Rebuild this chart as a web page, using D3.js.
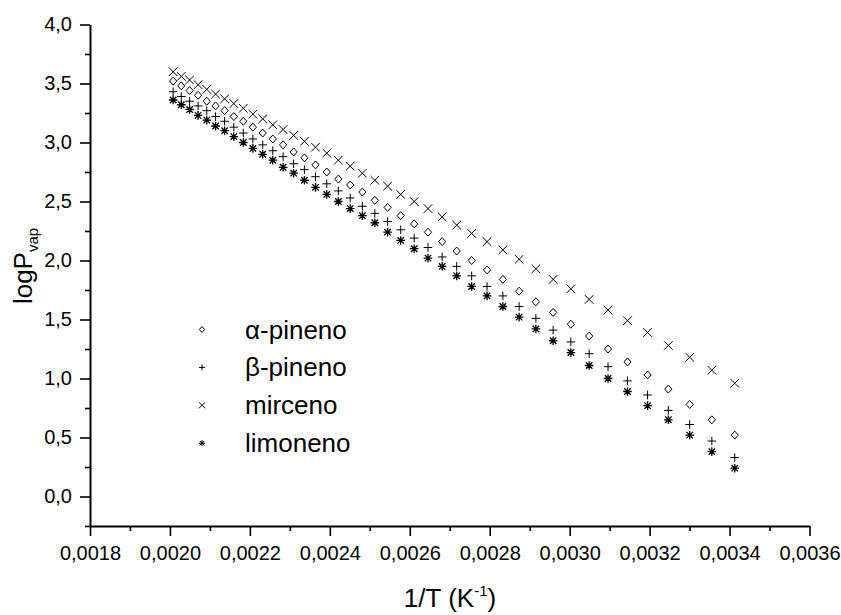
<style>
	body {
		margin: 0;
		background-color: white;
	}

	svg {
		display: block;
		font-family: Arial, "Liberation Sans", sans-serif;
	}

	.axis path, .axis line {
		stroke: black;
	}

	.axis text {
		fill: black;
	}
</style>

<svg width="841" height="615" viewBox="0 0 841 615"></svg>

<script src="https://d3js.org/d3.v7.min.js"></script>
<script>
// 1/T values (K^-1), one per temperature step
const invT = [
  0.0020080, 0.0020284, 0.0020492, 0.0020704, 0.0020921, 0.0021142, 0.0021368,
  0.0021598, 0.0021834, 0.0022075, 0.0022321, 0.0022573, 0.0022831, 0.0023095,
  0.0023364, 0.0023641, 0.0023923, 0.0024213, 0.0024510, 0.0024814, 0.0025126,
  0.0025445, 0.0025773, 0.0026110, 0.0026455, 0.0026810, 0.0027174, 0.0027548,
  0.0027933, 0.0028329, 0.0028736, 0.0029155, 0.0029586, 0.0030030, 0.0030488,
  0.0030960, 0.0031447, 0.0031949, 0.0032468, 0.0033003, 0.0033557, 0.0034130
]

// logPvap, same order as invT
const alphaPineno = [
  3.52, 3.48, 3.44, 3.40, 3.35, 3.31, 3.27, 3.22, 3.18, 3.13, 3.08, 3.03, 2.98, 2.92,
  2.87, 2.81, 2.75, 2.69, 2.64, 2.58, 2.51, 2.45, 2.38, 2.31, 2.24, 2.16, 2.08, 2.00,
  1.92, 1.84, 1.74, 1.65, 1.56, 1.46, 1.36, 1.25, 1.14, 1.03, 0.91, 0.78, 0.65, 0.52
]
const betaPineno = [
  3.43, 3.39, 3.35, 3.31, 3.27, 3.22, 3.18, 3.13, 3.08, 3.03, 2.98, 2.93, 2.88, 2.82,
  2.77, 2.71, 2.65, 2.59, 2.53, 2.46, 2.40, 2.33, 2.26, 2.19, 2.11, 2.03, 1.95, 1.87,
  1.78, 1.70, 1.61, 1.51, 1.41, 1.31, 1.21, 1.10, 0.98, 0.86, 0.73, 0.61, 0.47, 0.33
]
const mirceno = [
  3.60, 3.56, 3.53, 3.49, 3.45, 3.41, 3.37, 3.33, 3.29, 3.24, 3.20, 3.15, 3.11, 3.06,
  3.01, 2.96, 2.91, 2.85, 2.80, 2.74, 2.68, 2.63, 2.56, 2.50, 2.44, 2.37, 2.30, 2.23,
  2.16, 2.09, 2.01, 1.93, 1.84, 1.76, 1.67, 1.58, 1.49, 1.39, 1.28, 1.18, 1.07, 0.96
]
const limoneno = [
  3.36, 3.32, 3.28, 3.23, 3.19, 3.14, 3.10, 3.05, 3.00, 2.95, 2.90, 2.85, 2.79, 2.74,
  2.68, 2.62, 2.56, 2.50, 2.44, 2.38, 2.32, 2.24, 2.17, 2.10, 2.02, 1.95, 1.87, 1.78,
  1.70, 1.61, 1.52, 1.42, 1.32, 1.22, 1.11, 1.00, 0.89, 0.77, 0.65, 0.52, 0.38, 0.24
]

const seriesNames = ["α-pineno", "β-pineno", "mirceno", "limoneno"]
const seriesValues = [alphaPineno, betaPineno, mirceno, limoneno]
const seriesSymbols = ["diamond", "plus", "cross", "star"]

const xTicks = [0.0018, 0.0020, 0.0022, 0.0024, 0.0026, 0.0028, 0.0030, 0.0032, 0.0034, 0.0036]
const xMinorTicks = [0.0019, 0.0021, 0.0023, 0.0025, 0.0027, 0.0029, 0.0031, 0.0033, 0.0035]
const yTicks = [0.0, 0.5, 1.0, 1.5, 2.0, 2.5, 3.0, 3.5, 4.0]
const yMinorTicks = [-0.25, 0.25, 0.75, 1.25, 1.75, 2.25, 2.75, 3.25, 3.75]

const svg = d3.select("svg")

const x = d3.scaleLinear().domain([0.0018, 0.0036]).range([90, 809.5])
const y = d3.scaleLinear().domain([-0.25, 4.0]).range([526, 24.5])

// decimal comma, like the original
const locale = d3.formatLocale({ decimal: ",", thousands: ".", grouping: [3], currency: ["", ""] })
const fmtX = locale.format(".4f")
const fmtY = locale.format(".1f")

// minor ticks first, no labels
svg.append("g")
  .attr("class", "axis")
  .attr("transform", "translate(0,526)")
  .call(d3.axisBottom(x).tickValues(xMinorTicks).tickSize(5).tickSizeOuter(0).tickFormat(""))
  .call(g => g.select(".domain").remove())
  .selectAll("line").attr("stroke-width", 1.6)

svg.append("g")
  .attr("class", "axis")
  .attr("transform", "translate(90,0)")
  .call(d3.axisLeft(y).tickValues(yMinorTicks).tickSize(5).tickSizeOuter(0).tickFormat(""))
  .call(g => g.select(".domain").remove())
  .selectAll("line").attr("stroke-width", 1.6)

const xAxis = svg.append("g")
  .attr("class", "axis")
  .attr("transform", "translate(0,526)")
  .call(d3.axisBottom(x).tickValues(xTicks).tickSize(10).tickSizeOuter(0).tickPadding(10).tickFormat(fmtX))
xAxis.select(".domain").attr("stroke-width", 2)
xAxis.selectAll("line").attr("stroke-width", 1.6)
xAxis.selectAll("text").attr("font-size", 20).attr("font-family", null)

const yAxis = svg.append("g")
  .attr("class", "axis")
  .attr("transform", "translate(90,0)")
  .call(d3.axisLeft(y).tickValues(yTicks).tickSize(10).tickSizeOuter(0).tickPadding(8).tickFormat(fmtY))
yAxis.select(".domain").attr("stroke-width", 2)
yAxis.selectAll("line").attr("stroke-width", 1.6)
yAxis.selectAll("text").attr("font-size", 20).attr("font-family", null)

// symbol path for a marker of half-size r
function symbolPath(kind, r) {
  if (kind === "diamond") {
    const w = r * 0.9
    return `M0,${-r}L${w},0L0,${r}L${-w},0Z`
  }
  if (kind === "plus") return `M${-r},0H${r}M0,${-r}V${r}`
  if (kind === "cross") return `M${-r},${-r}L${r},${r}M${-r},${r}L${r},${-r}`
  // star: plus + cross
  const d = r * 0.75
  return `M${-r},0H${r}M0,${-r}V${r}M${-d},${-d}L${d},${d}M${-d},${d}L${d},${-d}`
}

seriesValues.forEach((vals, i) => {
  svg.append("g")
    .selectAll("path")
    .data(vals)
    .join("path")
    .attr("transform", (d, j) => `translate(${x(invT[j])},${y(d)})`)
    .attr("d", symbolPath(seriesSymbols[i], seriesSymbols[i] === "diamond" ? 4 : 4.3))
    .attr("fill", "none")
    .attr("stroke", "black")
    .attr("stroke-width", seriesSymbols[i] === "star" ? 1.3 : 1)
})

// legend
const legend = svg.append("g").attr("transform", "translate(202,329.5)")
seriesNames.forEach((name, i) => {
  const row = legend.append("g").attr("transform", `translate(0,${i * 37.9})`)
  row.append("path")
    .attr("d", symbolPath(seriesSymbols[i], 3))
    .attr("fill", "none")
    .attr("stroke", "black")
    .attr("stroke-width", 1)
  row.append("text")
    .attr("x", 43)
    .attr("y", 9)
    .attr("font-size", 26)
    .text(name)
})

// axis titles
const xTitle = svg.append("text")
  .attr("x", 450)
  .attr("y", 607)
  .attr("text-anchor", "middle")
  .attr("font-size", 26)
xTitle.append("tspan").text("1/T (K")
xTitle.append("tspan").attr("font-size", 15).attr("dy", -11).text("-1")
xTitle.append("tspan").attr("dy", 11).text(")")

const yTitle = svg.append("text")
  .attr("transform", "translate(32,266) rotate(-90)")
  .attr("text-anchor", "middle")
  .attr("font-size", 26)
yTitle.append("tspan").text("logP")
yTitle.append("tspan").attr("font-size", 15).attr("dy", 6).text("vap")
</script>
